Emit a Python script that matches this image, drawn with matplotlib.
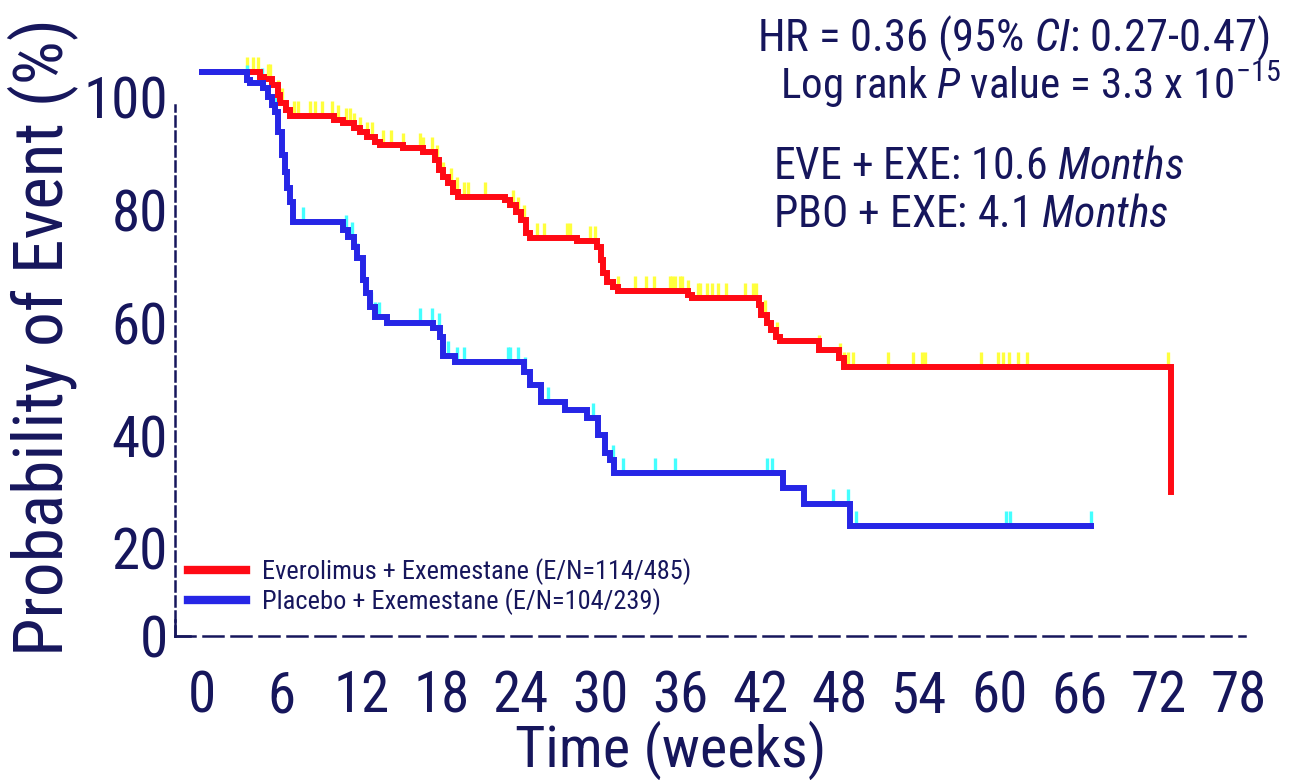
import matplotlib
matplotlib.use("Agg")
import matplotlib.pyplot as plt
import matplotlib.transforms as mtransforms
from matplotlib import font_manager
import numpy as np

# Kaplan-Meier steps (weeks, % without event)
eve_t = [0, 4.4, 4.7, 5.3, 5.7, 5.9, 6.3, 6.6, 9.9, 10.6, 11.4, 11.9, 12.4, 13.0, 13.4,
         15.1, 16.6, 17.5, 17.8, 18.1, 18.5, 18.9, 19.3, 22.8, 23.2, 23.6, 24.0, 24.4, 24.7,
         28.2, 29.7, 30.0, 30.2, 30.5, 30.9, 31.3, 36.6, 36.9, 41.9, 42.1, 42.5, 42.8, 43.2,
         43.5, 46.4, 47.9, 48.3, 72.9]
eve_s = [100, 99.2, 98.8, 97.8, 96.0, 94.5, 93.3, 92.2, 91.5, 91.0, 90.2, 89.4, 88.6, 87.7, 87.1,
         86.6, 85.9, 84.5, 82.7, 81.5, 80.4, 78.8, 77.9, 77.4, 76.5, 75.2, 73.8, 71.5, 70.6,
         70.1, 69.0, 66.7, 64.4, 62.8, 61.9, 61.2, 60.5, 60.0, 58.7, 57.0, 55.5, 54.3, 53.1,
         52.4, 50.8, 49.3, 47.7, 25.6]
eve_cens = [3.4, 3.8, 4.2, 5.0, 5.1, 5.7, 6.0, 6.9, 7.2, 8.1, 8.5, 9.0, 9.8, 10.2, 10.8, 11.1,
            11.4, 11.9, 12.4, 12.8, 13.6, 14.2, 15.1, 16.4, 16.6, 17.3, 17.7, 18.1, 18.7, 19.2,
            19.7, 20.0, 21.3, 23.4, 23.8, 24.2, 25.2, 25.7, 27.5, 27.7, 29.2, 29.6, 30.0, 30.2,
            31.3, 32.6, 33.4, 34.0, 35.2, 35.4, 35.6, 36.0, 36.1, 36.6, 37.3, 37.5, 38.0, 38.4,
            38.8, 39.4, 40.9, 41.5, 41.7, 42.4, 43.3, 46.4, 48.0, 48.3, 48.6, 49.0, 51.6, 53.5,
            54.2, 54.4, 58.6, 59.9, 60.3, 60.7, 61.4, 62.1, 72.7]

pbo_t = [0, 3.4, 3.6, 4.6, 5.0, 5.3, 5.5, 5.7, 6.0, 6.25, 6.4, 6.6, 6.85, 10.6, 11.0, 11.4,
         11.7, 12.1, 12.35, 12.65, 13.0, 13.9, 17.4, 17.9, 18.1, 19.05, 24.2, 24.7, 25.5, 27.3,
         29.0, 29.8, 30.3, 30.7, 31.0, 43.7, 45.3, 48.8, 66.9]
pbo_s = [100, 98.7, 98.1, 97.2, 95.7, 94.2, 93.0, 89.4, 85.4, 82.3, 79.5, 77.0, 73.5, 72.0, 70.8,
         69.0, 67.1, 63.2, 60.9, 58.4, 56.6, 55.5, 54.7, 53.1, 49.7, 48.6, 46.9, 44.5, 41.5,
         40.1, 38.7, 35.7, 32.5, 31.2, 28.9, 26.3, 23.4, 19.5, 19.5]
pbo_cens = [3.4, 4.5, 5.5, 7.6, 10.8, 11.3, 11.7, 12.7, 13.0, 13.3, 16.4, 17.3, 17.8, 18.1, 18.5,
            19.2, 19.7, 23.0, 23.2, 23.8, 24.3, 26.0, 29.4, 30.3, 30.9, 31.7, 34.1, 35.6, 42.5,
            42.9, 47.5, 48.6, 49.2, 60.5, 60.8, 66.9]

xticks = [0, 6, 12, 18, 24, 30, 36, 42, 48, 54, 60, 66, 72, 78]
yticks = [0, 20, 40, 60, 80, 100]
labels = ["Everolimus + Exemestane (E/N=114/485)", "Placebo + Exemestane (E/N=104/239)"]

NAVY = "#16165c"
RED = "#ff0a14"
BLUE = "#2626e6"
YELLOW = "#ffff3c"
CYAN = "#44ffff"

# pick a narrow-ish font if one is installed
names = {f.name for f in font_manager.fontManager.ttflist}
font = "DejaVu Sans"
for fam in ["Roboto Condensed", "Liberation Sans Narrow", "DejaVu Sans Condensed", "Lato"]:
    if fam in names:
        font = fam
        break
plt.rcParams["font.family"] = font
plt.rcParams["mathtext.fontset"] = "custom"
plt.rcParams["mathtext.rm"] = font
plt.rcParams["mathtext.it"] = font + ":italic"


def censor_levels(t, s, ct):
    idx = np.searchsorted(np.array(t), np.array(ct), side="right") - 1
    return np.array(s)[idx]


fig = plt.figure(figsize=(12.9, 7.8), dpi=100)
ax = fig.add_axes([0.1357, 0.1846, 0.8295, 0.7658])

# censor marks behind the curves
for t, s, ct, col in [(eve_t, eve_s, eve_cens, YELLOW), (pbo_t, pbo_s, pbo_cens, CYAN)]:
    lv = censor_levels(t, s, ct)
    ax.vlines(ct, lv, lv + 2.7, color=col, lw=2.4, zorder=2)

ax.step(eve_t, eve_s, where="post", color=RED, lw=4.3, zorder=3,
        solid_joinstyle="miter", label=labels[0])
ax.step(pbo_t, pbo_s, where="post", color=BLUE, lw=4.3, zorder=4,
        solid_joinstyle="miter", label=labels[1])

ax.set_xlim(-2.03, 78.5)
ax.set_ylim(0, 106)
ax.set_xticks(xticks)
ax.set_yticks(yticks)
ax.tick_params(length=0, labelsize=41, colors=NAVY)
ax.tick_params(axis="x", pad=24)
ax.tick_params(axis="y", pad=5)

# the y labels in the original sit about 25 px below their grid value (except 0)
shift = mtransforms.ScaledTranslation(0, -0.25, fig.dpi_scale_trans)
for tick in ax.yaxis.get_major_ticks()[1:]:
    tick.label1.set_transform(tick.label1.get_transform() + shift)

ax.set_xlabel("Time (weeks)", fontsize=42, color=NAVY)
ax.xaxis.set_label_coords(0.463, -0.142)
ax.xaxis.label.set_va("top")
ax.set_ylabel("Probability of Event (%)", fontsize=50, color=NAVY, labelpad=4)

for side in ["top", "right"]:
    ax.spines[side].set_visible(False)
ax.spines["left"].set_bounds(0, 94.2)
ax.spines["left"].set_linestyle((0, (4, 2)))
ax.spines["bottom"].set_linestyle((0, (8, 3.2)))
for side in ["left", "bottom"]:
    ax.spines[side].set_linewidth(1.8)
    ax.spines[side].set_color(NAVY)
ax.plot([0, 0], [0, 0.027], color=NAVY, lw=1.8, transform=ax.transAxes, clip_on=False)
ax.plot([0, 0.014], [0, 0], color=NAVY, lw=1.8, transform=ax.transAxes, clip_on=False)

leg = ax.legend(loc="lower left", bbox_to_anchor=(0.012, 0.035), frameon=False,
                fontsize=19, borderpad=0, borderaxespad=0, handlelength=2.2,
                handletextpad=0.6, labelspacing=0.12)
for line in leg.get_lines():
    line.set_linewidth(6)
for txt in leg.get_texts():
    txt.set_color(NAVY)

fig.text(757 / 1290, 1 - 38 / 780, r"HR = 0.36 (95% $\mathit{CI}$: 0.27-0.47)",
         fontsize=32, color=NAVY, va="center", ha="left")
fig.text(780 / 1290, 1 - 85 / 780, r"Log rank $\mathit{P}$ value = 3.3 x 10$^{-15}$",
         fontsize=31, color=NAVY, va="center", ha="left")
fig.text(773 / 1290, 1 - 167 / 780, r"EVE + EXE: 10.6 $\mathit{Months}$",
         fontsize=31.5, color=NAVY, va="center", ha="left")
fig.text(773 / 1290, 1 - 215 / 780, r"PBO + EXE: 4.1 $\mathit{Months}$",
         fontsize=31.5, color=NAVY, va="center", ha="left")

fig.savefig("out.png", dpi=100)
